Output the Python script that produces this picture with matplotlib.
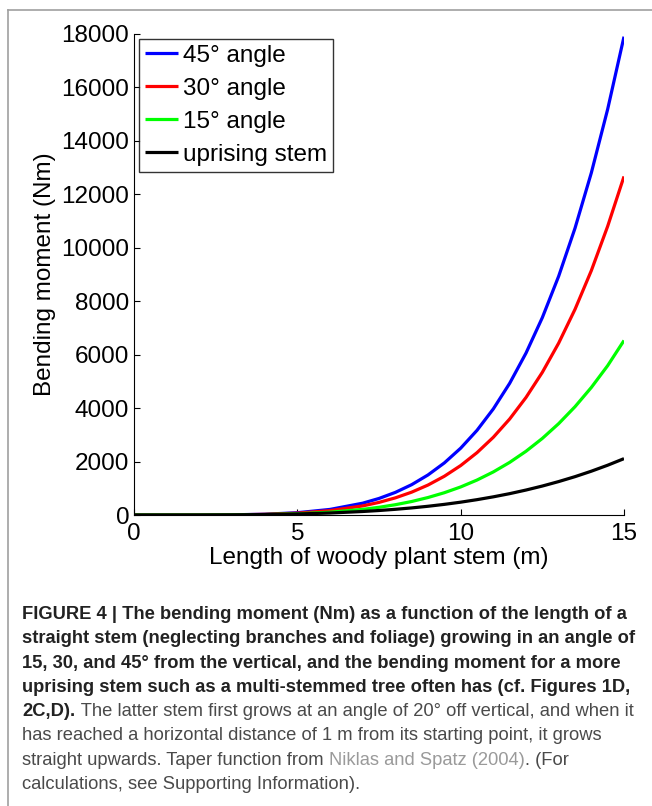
import matplotlib
matplotlib.use("Agg")
import matplotlib.pyplot as plt
from matplotlib.lines import Line2D

plt.rcParams['font.family'] = ['Liberation Sans', 'DejaVu Sans']

# ---- data ----
length_m = [0, 1, 2, 3, 4, 5, 6, 7, 7.5, 8, 8.5, 9, 9.5, 10, 10.5, 11, 11.5,
            12, 12.5, 13, 13.5, 14, 14.5, 15]
moment_45 = [0, 0, 1, 7, 29, 86, 209, 442, 619, 846, 1135, 1499, 1949, 2500,
             3168, 3971, 4928, 6059, 7387, 8936, 10732, 12805, 15185, 17900]
moment_30 = [0, 0, 1, 6, 25, 69, 164, 340, 472, 641, 855, 1121, 1450, 1850,
             2333, 2909, 3593, 4399, 5339, 6432, 7696, 9146, 10805, 12670]
moment_15 = [0, 0, 0, 5, 17, 46, 105, 211, 288, 385, 505, 654, 834, 1050,
             1308, 1612, 1969, 2385, 2866, 3419, 4052, 4773, 5589, 6530]
moment_up = [0, 0, 1, 6, 17, 38, 74, 131, 168, 213, 265, 327, 398, 480,
             574, 680, 799, 934, 1084, 1251, 1435, 1639, 1863, 2109]
series_labels = ['45° angle', '30° angle', '15° angle', 'uprising stem']
series_colors = ['#0000ff', '#ff0000', '#00ff00', '#000000']
x_ticks = [0, 5, 10, 15]
y_ticks = list(range(0, 18001, 2000))

W, H = 652, 806
fig = plt.figure(figsize=(W / 100, H / 100), dpi=100)
fig.patch.set_facecolor('white')

# outer frame (left and top edges visible)
fig.add_artist(Line2D([8 / W, 8 / W], [0, 1 - 10 / H], color='#a0a0a0', lw=1.2,
                      transform=fig.transFigure))
fig.add_artist(Line2D([8 / W, 1], [1 - 10 / H, 1 - 10 / H], color='#a0a0a0', lw=1.2,
                      transform=fig.transFigure))

ax = fig.add_axes([134 / W, 1 - 515 / H, 490 / W, 481 / H])
for ys, lab, col in zip([moment_45, moment_30, moment_15, moment_up],
                        series_labels, series_colors):
    ax.plot(length_m, ys, color=col, lw=2.3, label=lab, solid_capstyle='butt')

ax.set_xlim(0, 15)
ax.set_ylim(0, 18000)
ax.set_xticks(x_ticks)
ax.set_yticks(y_ticks)
ax.set_xticklabels([str(v) for v in x_ticks])
ax.set_yticklabels([str(v) for v in y_ticks])
for s in ['top', 'right']:
    ax.spines[s].set_visible(False)
for s in ['left', 'bottom']:
    ax.spines[s].set_linewidth(0.8)
ax.tick_params(direction='in', length=4, width=0.8, labelsize=17.5)
ax.tick_params(axis='y', pad=3.5)
ax.tick_params(axis='x', pad=6)
ax.set_xlabel('Length of woody plant stem (m)', fontsize=17.5, labelpad=1)
ax.set_ylabel('Bending moment (Nm)', fontsize=17.5, labelpad=4)

leg = ax.legend(loc='upper left', bbox_to_anchor=(0.01, 0.99), fontsize=17.5,
                frameon=True, fancybox=False, edgecolor='black',
                handlelength=1.35, handletextpad=0.2, labelspacing=0.45,
                borderpad=0.25, borderaxespad=0)
leg.get_frame().set_linewidth(1.0)
for h in leg.get_lines():
    h.set_linewidth(2.3)

# ---- caption ----
renderer = fig.canvas.get_renderer()
cap_bold_color = '#222222'
cap_reg_color = '#4a4a4a'
cap_link_color = '#9a9a9a'

lines = [
    [("FIGURE 4 | The bending moment (Nm) as a function of the length of a", 'bold', cap_bold_color)],
    [("straight stem (neglecting branches and foliage) growing in an angle of", 'bold', cap_bold_color)],
    [("15, 30, and 45° from the vertical, and the bending moment for a more", 'bold', cap_bold_color)],
    [("uprising stem such as a multi-stemmed tree often has (cf. Figures 1D,", 'bold', cap_bold_color)],
    [("2C,D).", 'bold', cap_bold_color),
     (" The latter stem first grows at an angle of 20° off vertical, and when it", 'normal', cap_reg_color)],
    [("has reached a horizontal distance of 1 m from its starting point, it grows", 'normal', cap_reg_color)],
    [("straight upwards. Taper function from ", 'normal', cap_reg_color),
     ("Niklas and Spatz (2004)", 'normal', cap_link_color),
     (". (For", 'normal', cap_reg_color)],
    [("calculations, see Supporting Information).", 'normal', cap_reg_color)],
]

# fit font size so the first bold line spans the reference width
probe = fig.text(0, 0, lines[0][0][0], fontsize=11.5, fontweight='bold')
pw = probe.get_window_extent(renderer).width
probe.remove()
cap_fs = 11.5 * 609.0 / pw

x0 = 22.5
y_first = 619.0
spacing = 24.3
for i, parts in enumerate(lines):
    x = x0
    y = y_first + i * spacing
    for txt, wt, col in parts:
        t = fig.text(x / W, 1 - y / H, txt, fontsize=cap_fs, fontweight=wt,
                     color=col, ha='left', va='baseline')
        x += t.get_window_extent(renderer).width

fig.savefig('out.png', dpi=100, facecolor='white')
